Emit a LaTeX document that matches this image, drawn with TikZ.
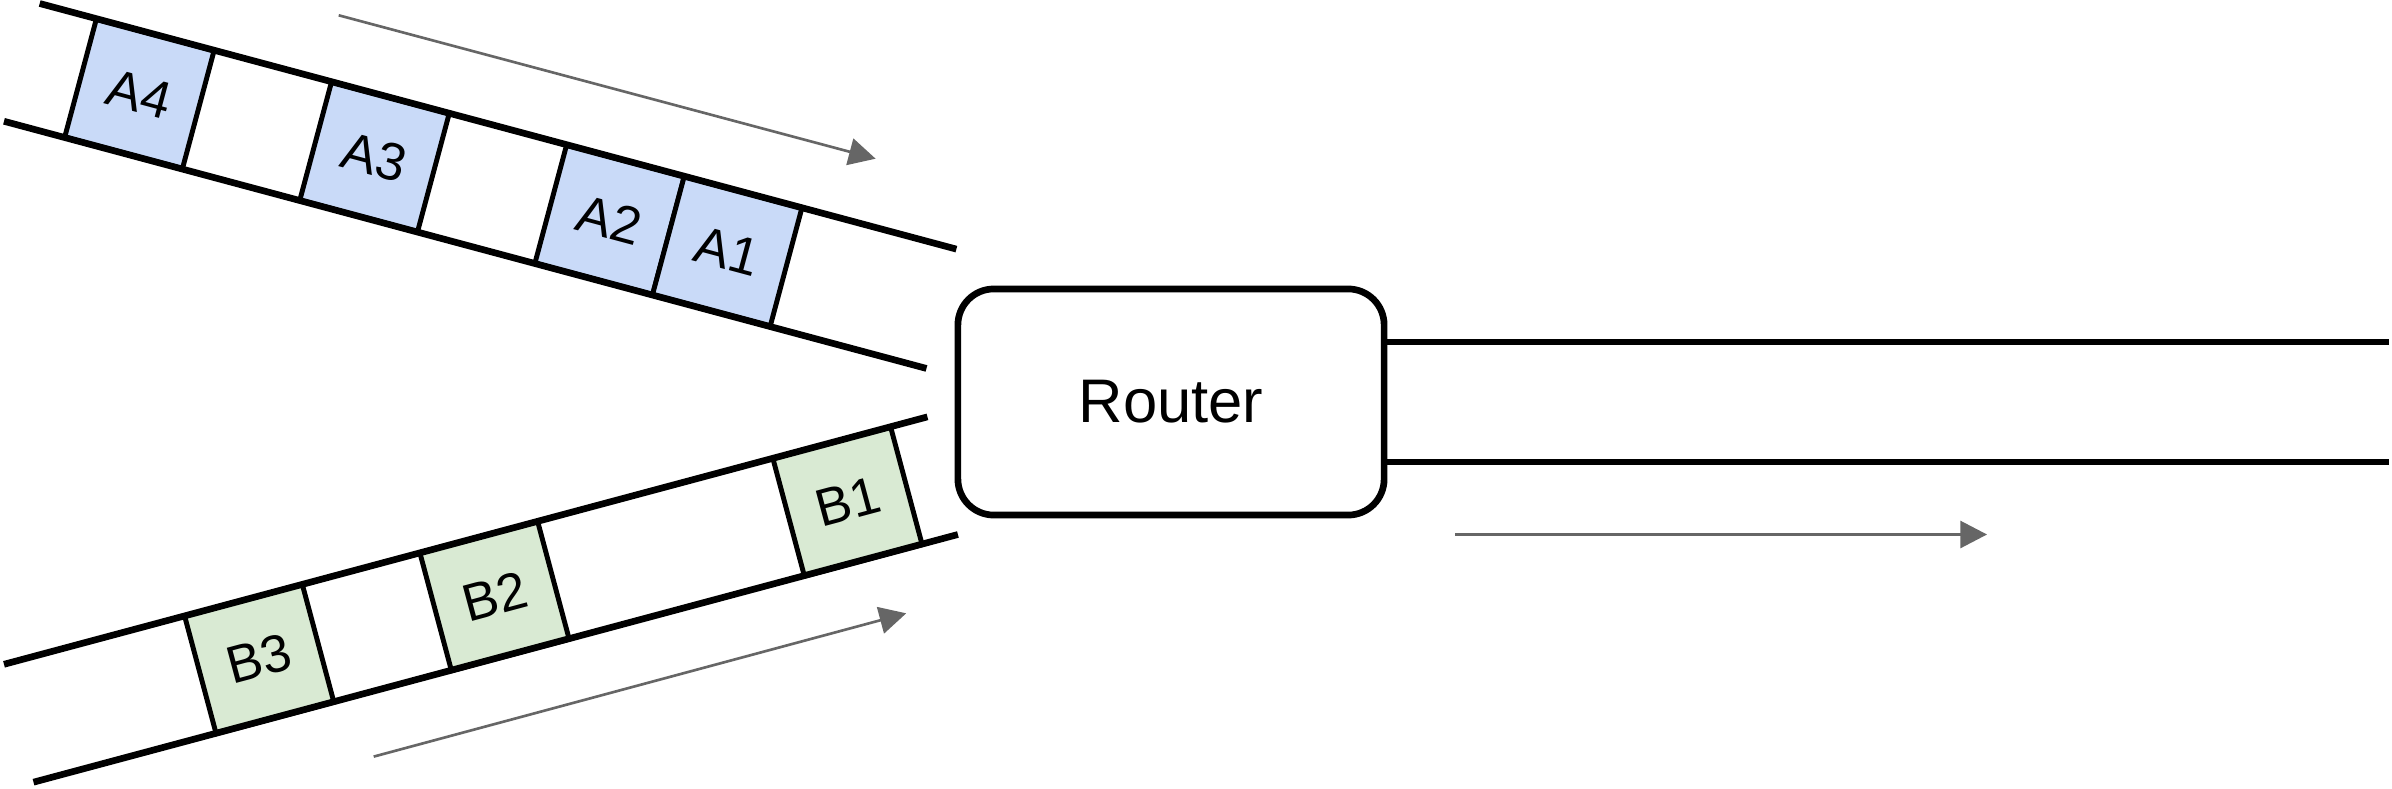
\documentclass[tikz,border=0pt]{standalone}
\usepackage{fontspec}
\setmainfont{Liberation Sans}
\usetikzlibrary{arrows.meta}
\definecolor{pktA}{HTML}{C9DAF8}
\definecolor{pktB}{HTML}{D9EAD3}
\definecolor{flow}{HTML}{666666}
\begin{document}
\begin{tikzpicture}[x=0.01cm,y=-0.01cm,
  wire/.style={line width=1.9pt},
  pkt/.style={draw, line width=1.4pt, minimum width=1.218cm, minimum height=1.22cm,
    inner sep=0pt, font=\fontsize{15}{17}\selectfont},
  pa/.style={pkt, fill=pktA, rotate=-15},
  pb/.style={pkt, fill=pktB, rotate=15},
  router/.style={draw, line width=1.9pt, rounded corners=0.36cm, minimum width=4.26cm,
    minimum height=2.26cm, font=\fontsize{17.5}{20}\selectfont},
  flowarrow/.style={draw=flow, line width=0.75pt, -{Triangle[length=7.6pt,width=7.7pt]}}
]
\fill[white] (0,0) rectangle (2392,788);
\useasboundingbox (0,0) rectangle (2392,788);

% top channel (A packets)
\begin{scope}[shift={(39.7,3.5)}, rotate=-15]
  \node[pa] (a4) at (119.7,61.5) {A4};
  \node[pa] (a3) at (363.1,61.5) {A3};
  \node[pa] (a2) at (606.5,61.5) {A2};
  \node[pa] (a1) at (728.2,61.5) {A1};
  \draw[wire] (0,0) -- (949,0);
  \draw[wire] (-4,123) -- (951,123);
\end{scope}

% bottom channel (B packets)
\begin{scope}[shift={(4,664.3)}, rotate=15]
  \node[pb] (b3) at (247.9,61) {B3};
  \node[pb] (b2) at (491.5,61) {B2};
  \node[pb] (b1) at (856.9,61) {B1};
  \draw[wire] (0,0) -- (956,0);
  \draw[wire] (-2,121.5) -- (955,121.5);
\end{scope}

% router and output link
\node[router] (router) at (1171,402) {Router};
\coordinate (o1) at (2389,342);
\coordinate (o2) at (2389,462);
\draw[wire] (router.east |- o1) -- (o1);
\draw[wire] (router.east |- o2) -- (o2);

% flow arrows
\coordinate (ta0) at (338.7,15.3);
\coordinate (ta1) at (875.6,158.7);
\coordinate (ba0) at (373.7,756.6);
\coordinate (ba1) at (906.2,613.3);
\coordinate (ha0) at (1455,534.5);
\coordinate (ha1) at (1987,534.5);
\draw[flowarrow] (ta0) -- (ta1);
\draw[flowarrow] (ba0) -- (ba1);
\draw[flowarrow] (ha0) -- (ha1);
\end{tikzpicture}
\end{document}
